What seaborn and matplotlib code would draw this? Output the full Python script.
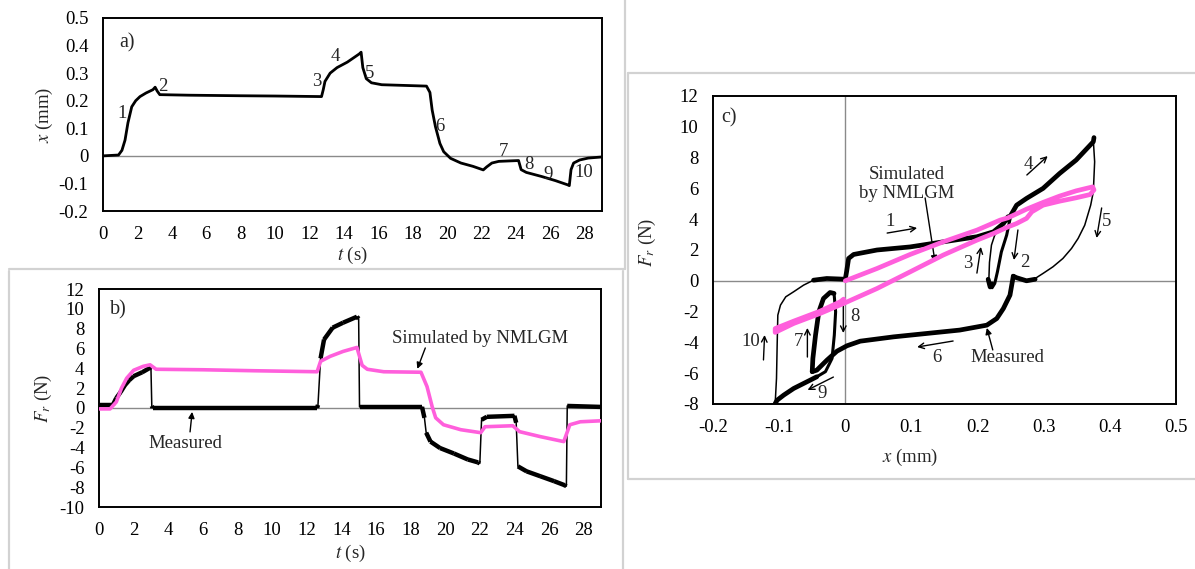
import matplotlib
matplotlib.use("Agg")
import matplotlib.pyplot as plt
from matplotlib.lines import Line2D
import seaborn as sns

# ---------------- data : panel a (displacement vs time) ----------------
time_a = [0, 0.9, 1.1, 1.28, 1.45, 1.67, 1.9, 2.15, 2.5, 2.9, 3.03, 3.15, 3.3, 5, 8, 10,
          12.7, 12.8, 12.9, 13.2, 13.6, 14.2, 14.9, 15.0, 15.1, 15.3, 15.6, 16.2, 18.8,
          19.0, 19.13, 19.32, 19.58, 19.8, 20.2, 20.8, 21.5, 22.1, 22.3, 22.6, 23.0, 24.15,
          24.3, 24.6, 25.5, 26.3, 27.0, 27.1, 27.2, 27.35, 27.7, 28.2, 29.0]
disp_a = [0, 0.003, 0.02, 0.057, 0.12, 0.178, 0.2, 0.215, 0.228, 0.24, 0.249, 0.235, 0.222,
          0.22, 0.218, 0.217, 0.215, 0.24, 0.27, 0.3, 0.32, 0.34, 0.37, 0.376, 0.32, 0.28,
          0.265, 0.258, 0.253, 0.23, 0.166, 0.106, 0.045, 0.015, -0.009, -0.026, -0.038,
          -0.051, -0.04, -0.026, -0.02, -0.017, -0.05, -0.06, -0.075, -0.09, -0.105, -0.108,
          -0.05, -0.026, -0.015, -0.008, -0.004]
labels_a = ["1", "2", "3", "4", "5", "6", "7", "8", "9", "10"]
label_t_a = [1.1, 3.5, 12.45, 13.5, 15.5, 19.55, 23.3, 24.75, 25.85, 27.95]
label_x_a = [0.155, 0.253, 0.27, 0.36, 0.30, 0.105, 0.015, -0.03, -0.066, -0.06]

# ---------------- data : panel b (force vs time) ----------------
time_meas_b = [0, 0.8, 1.0, 1.25, 1.5, 1.75, 2.0, 2.5, 3.0, 3.05, 3.1, 12.6, 12.65, 12.8,
               13.0, 13.5, 14.1, 14.9, 15.0, 15.05, 18.66, 18.8, 18.9, 19.15, 19.7, 20.5,
               21.3, 21.9, 22.0, 22.1, 22.4, 24.0, 24.1, 24.2, 24.7, 25.5, 26.3, 26.9, 27.0,
               27.05, 29.0]
force_meas_b = [0.3, 0.3, 1.0, 1.6, 2.3, 2.8, 3.2, 3.6, 4.1, 0.2, 0.0, 0.0, 0.3, 5.0, 6.9,
                8.1, 8.6, 9.2, 9.0, 0.1, 0.1, -1.0, -2.5, -3.4, -4.05, -4.6, -5.2, -5.5,
                -5.6, -1.2, -0.9, -0.8, -1.5, -5.9, -6.4, -6.9, -7.4, -7.8, -7.9, 0.2, 0.1]
time_sim_b = [0, 0.64, 1.0, 1.3, 1.6, 2.0, 2.56, 2.95, 3.3, 6, 9, 12.6, 12.8, 13.35, 14.1,
              14.9, 15.2, 15.5, 16.45, 18.6, 18.95, 19.25, 19.45, 19.9, 20.9, 22.05, 22.3,
              23.9, 24.3, 25.5, 26.85, 27.2, 27.8, 29.0]
force_sim_b = [-0.1, -0.1, 0.6, 2.0, 3.0, 3.8, 4.2, 4.35, 3.9, 3.85, 3.75, 3.65, 4.7, 5.2,
               5.7, 6.1, 4.3, 3.9, 3.65, 3.6, 2.15, 0.1, -1.0, -1.7, -2.2, -2.5, -1.9, -1.8,
               -2.4, -2.9, -3.4, -1.7, -1.4, -1.3]

# ---------------- data : panel c (force vs displacement) ----------------
hold0_x = [-0.048, -0.028, -0.01, 0.0]
hold0_f = [0.04, 0.15, 0.12, 0.1]
seg1_x = [0.0, 0.002, 0.005, 0.0126, 0.048, 0.098, 0.148, 0.199, 0.224, 0.239, 0.246]
seg1_f = [0.1, 0.6, 1.45, 1.71, 2.0, 2.2, 2.53, 2.86, 3.18, 3.72, 4.16]
seg2_x = [0.249, 0.244, 0.236, 0.23, 0.226, 0.222, 0.218, 0.217]
seg2_f = [4.0, 2.97, 1.88, 0.58, -0.17, -0.45, -0.3, 0.0]
hold1_x = [0.216, 0.219, 0.222]
hold1_f = [0.1, -0.4, -0.2]
seg3_x = [0.217, 0.218, 0.221, 0.226, 0.234, 0.246]
seg3_f = [0.0, 1.2, 2.32, 2.97, 3.4, 3.94]
seg4_x = [0.246, 0.259, 0.274, 0.299, 0.324, 0.349, 0.375, 0.376]
seg4_f = [3.94, 4.91, 5.35, 6.0, 6.97, 7.84, 9.03, 9.3]
seg5_x = [0.375, 0.377, 0.375, 0.371, 0.362, 0.352, 0.342, 0.329, 0.314, 0.299, 0.287, 0.28]
seg5_f = [9.13, 7.73, 5.78, 4.91, 3.61, 2.75, 2.1, 1.45, 0.91, 0.48, 0.15, 0.05]
hold2_x = [0.287, 0.274, 0.259, 0.254]
hold2_f = [0.1, 0.0, 0.2, 0.3]
seg6_x = [0.254, 0.249, 0.239, 0.229, 0.214, 0.173, 0.123, 0.073, 0.0226, 0.0025, -0.0126,
          -0.0277, -0.043, -0.05]
seg6_f = [0.3, -0.93, -1.8, -2.45, -2.88, -3.2, -3.42, -3.64, -3.92, -4.22, -4.57, -5.15,
          -5.8, -5.9]
seg7_x = [-0.05, -0.049, -0.045, -0.04, -0.033, -0.023, -0.017]
seg7_f = [-5.9, -5.04, -3.53, -2.01, -1.15, -0.76, -0.82]
seg8_x = [-0.017, -0.0146, -0.0166, -0.02, -0.03, -0.043]
seg8_f = [-0.82, -2.01, -3.53, -5.04, -5.9, -6.23]
seg9_x = [-0.043, -0.053, -0.078, -0.093, -0.103, -0.106]
seg9_f = [-6.23, -6.45, -6.99, -7.42, -7.75, -7.97]
seg10_x = [-0.106, -0.104, -0.103, -0.102, -0.098, -0.09, -0.078, -0.063, -0.048]
seg10_f = [-7.97, -6.34, -4.18, -2.23, -1.58, -1.04, -0.71, -0.28, 0.04]

sim_c_x = [0.0, 0.048, 0.098, 0.148, 0.199, 0.234, 0.246, 0.274, 0.299, 0.324, 0.349, 0.374,
           0.376, 0.37, 0.349, 0.324, 0.299, 0.282, 0.274, 0.259, 0.246, 0.224, 0.199, 0.148,
           0.098, 0.048, -0.0025, -0.038, -0.078, -0.106, -0.106, -0.078, -0.038, -0.0075,
           -0.0025]
sim_c_f = [0.0, 0.8, 1.71, 2.53, 3.29, 3.94, 4.09, 4.65, 5.09, 5.5, 5.84, 6.1, 5.9, 5.6,
           5.39, 5.17, 4.91, 4.48, 4.05, 3.72, 3.5, 3.07, 2.64, 1.67, 0.58, -0.5, -1.47,
           -2.12, -2.77, -3.35, -3.1, -2.62, -1.97, -1.36, -1.19]

ticks_t = list(range(0, 29, 2))
ticks_xa = [0.5, 0.4, 0.3, 0.2, 0.1, 0, -0.1, -0.2]
ticklabels_xa = ["0.5", "0.4", "0.3", "0.2", "0.1", "0", "-0.1", "-0.2"]
ticks_fb = list(range(12, -11, -2))
ticks_fc = list(range(12, -9, -2))
ticks_xc = [-0.2, -0.1, 0, 0.1, 0.2, 0.3, 0.4, 0.5]
ticklabels_xc = ["-0.2", "-0.1", "0", "0.1", "0.2", "0.3", "0.4", "0.5"]

# ---------------- style ----------------
sns.set_theme(style="white")
plt.rcParams["font.family"] = ["Liberation Serif", "DejaVu Serif"]
plt.rcParams["mathtext.fontset"] = "stix"

PINK = "#FF5FDC"
GRAY = "#8a8a8a"
FRAME = "#d2d2d2"
W, H = 1195, 569
TICK_FS = 13.5
TXT_FS = 13.5

fig = plt.figure(figsize=(W / 100, H / 100), dpi=100)
fig.patch.set_facecolor("white")


def add_axes(l, r, t, b):
    return fig.add_axes([l / W, 1 - b / H, (r - l) / W, (b - t) / H])


def style_axes(ax):
    for s in ax.spines.values():
        s.set_visible(True)
        s.set_color("black")
        s.set_linewidth(1.4)
    ax.tick_params(length=0, pad=10.5, labelsize=TICK_FS, colors="black")
    ax.grid(False)
    ax.set_facecolor("white")


# ---------------- panel frames ----------------
def fline(x0, y0, x1, y1):
    fig.add_artist(Line2D([x0 / W, x1 / W], [1 - y0 / H, 1 - y1 / H], color=FRAME, lw=1.6,
                          transform=fig.transFigure))

fline(625, 0, 625, 269)
fline(9, 269, 625, 269)
fline(9, 271, 9, 569)
fline(623, 271, 623, 569)
fline(628, 73, 628, 479)
fline(628, 73, 1195, 73)
fline(628, 479, 1195, 479)

# ---------------- panel a ----------------
axa = add_axes(103, 602, 18, 211)
style_axes(axa)
axa.axhline(0, color=GRAY, lw=1.0, zorder=1)
sns.lineplot(x=time_a, y=disp_a, ax=axa, color="black", linewidth=2.0, sort=False,
             estimator=None, zorder=3)
axa.set_xlim(0, 29)
axa.set_ylim(-0.2, 0.5)
axa.set_xticks(ticks_t)
axa.set_xticklabels([str(v) for v in ticks_t])
axa.set_yticks(ticks_xa)
axa.set_yticklabels(ticklabels_xa)
axa.set_xlabel("$t$ (s)", fontsize=TXT_FS)
axa.set_ylabel("$x$ (mm)", fontsize=TXT_FS)
axa.xaxis.set_label_coords(0.5, -0.228)
axa.yaxis.set_label_coords(-0.118, 0.5)
axa.xaxis.label.set_va("center")
axa.yaxis.label.set_va("center")
axa.text(1.4, 0.41, "a)", fontsize=TXT_FS + 1, ha="center", va="center")
for lab, tt, xx in zip(labels_a, label_t_a, label_x_a):
    axa.text(tt, xx, lab, fontsize=TICK_FS, ha="center", va="center")

# ---------------- panel b ----------------
axb = add_axes(99, 601, 289, 507)
style_axes(axb)
axb.axhline(0, color=GRAY, lw=1.0, zorder=1)
sns.lineplot(x=time_meas_b, y=force_meas_b, ax=axb, color="black", linewidth=1.1,
             sort=False, estimator=None, zorder=3)
# noisy plateaus drawn thicker
for i in range(len(time_meas_b) - 1):
    dt = time_meas_b[i + 1] - time_meas_b[i]
    df = force_meas_b[i + 1] - force_meas_b[i]
    if abs(df) / dt < 12:
        axb.plot(time_meas_b[i:i + 2], force_meas_b[i:i + 2], color="black", lw=3.2,
                 solid_capstyle="butt", zorder=3)
sns.lineplot(x=time_sim_b, y=force_sim_b, ax=axb, color=PINK, linewidth=2.6, sort=False,
             estimator=None, zorder=4)
axb.set_xlim(0, 29)
axb.set_ylim(-10, 12)
axb.set_xticks(ticks_t)
axb.set_xticklabels([str(v) for v in ticks_t])
axb.set_yticks(ticks_fb)
axb.set_yticklabels([str(v) for v in ticks_fb])
axb.set_xlabel("$t$ (s)", fontsize=TXT_FS)
axb.set_ylabel("$F_r$ (N)", fontsize=TXT_FS)
axb.xaxis.set_label_coords(0.5, -0.211)
axb.yaxis.set_label_coords(-0.1116, 0.5)
axb.xaxis.label.set_va("center")
axb.yaxis.label.set_va("center")
axb.text(1.1, 9.9, "b)", fontsize=TXT_FS + 1, ha="center", va="center")
arrow_b = dict(arrowstyle="-|>", lw=1.0, color="black", mutation_scale=9, shrinkA=0, shrinkB=0)
axb.annotate("", xy=(5.38, -0.4), xytext=(5.26, -2.42), arrowprops=arrow_b)
axb.text(4.97, -3.6, "Measured", fontsize=TXT_FS, ha="center", va="center")
axb.annotate("", xy=(18.39, 3.94), xytext=(18.85, 6.05), arrowprops=arrow_b)
axb.text(22.0, 6.96, "Simulated by NMLGM", fontsize=TXT_FS, ha="center", va="center")

# ---------------- panel c ----------------
axc = add_axes(713, 1176, 96, 404)
style_axes(axc)
axc.axhline(0, color=GRAY, lw=1.0, zorder=1)
axc.axvline(0, color=GRAY, lw=1.0, zorder=1)
thick = [(hold0_x, hold0_f), (seg1_x, seg1_f), (hold1_x, hold1_f), (seg4_x, seg4_f),
         (hold2_x, hold2_f), (seg6_x, seg6_f), (seg9_x, seg9_f), (seg7_x, seg7_f)]
medium = [(seg2_x, seg2_f), (seg8_x, seg8_f)]
thin = [(seg3_x, seg3_f), (seg5_x, seg5_f), (seg10_x, seg10_f)]
for group, lw in ((thin, 1.1), (medium, 2.2), (thick, 3.4)):
    for xs, fs in group:
        sns.lineplot(x=xs, y=fs, ax=axc, color="black", linewidth=lw, sort=False,
                     estimator=None, zorder=3)
sns.lineplot(x=sim_c_x, y=sim_c_f, ax=axc, color=PINK, linewidth=3.4, sort=False,
             estimator=None, zorder=4)
axc.set_xlim(-0.2, 0.5)
axc.set_ylim(-8, 12)
axc.set_xticks(ticks_xc)
axc.set_xticklabels(ticklabels_xc)
axc.set_yticks(ticks_fc)
axc.set_yticklabels([str(v) for v in ticks_fc])
axc.set_xlabel("$x$ (mm)", fontsize=TXT_FS)
axc.set_ylabel("$F_r$ (N)", fontsize=TXT_FS)
axc.xaxis.set_label_coords(0.4255, -0.172)
axc.yaxis.set_label_coords(-0.1425, 0.526)
axc.xaxis.label.set_va("center")
axc.yaxis.label.set_va("center")
axc.text(-0.176, 10.57, "c)", fontsize=TXT_FS + 1, ha="center", va="center")

arrow_c = dict(arrowstyle="->", lw=1.0, color="black", mutation_scale=10, shrinkA=0, shrinkB=0)
axc.text(0.0935, 6.3, "Simulated\nby NMLGM", fontsize=TXT_FS, ha="center", va="center",
         linespacing=1.15)
axc.annotate("", xy=(0.1357, 1.22), xytext=(0.1207, 5.38),
             arrowprops=dict(arrowstyle="-|>", lw=1.0, color="black", mutation_scale=9,
                             shrinkA=0, shrinkB=0))
axc.text(0.245, -4.95, "Measured", fontsize=TXT_FS, ha="center", va="center")
axc.annotate("", xy=(0.214, -3.06), xytext=(0.223, -4.49),
             arrowprops=dict(arrowstyle="-|>", lw=1.0, color="black", mutation_scale=9,
                             shrinkA=0, shrinkB=0))

num_c = ["1", "2", "3", "4", "5", "6", "7", "8", "9", "10"]
num_c_pos = [(0.0679, 3.82), (0.271, 1.19), (0.1855, 1.15), (0.276, 7.56), (0.395, 3.82),
             (0.139, -5.01), (-0.071, -3.97), (0.0151, -2.35), (-0.0347, -7.29),
             (-0.143, -3.97)]
arr_c_from = [(0.0633, 3.1), (0.261, 3.3), (0.199, 0.5), (0.2745, 6.87), (0.3876, 4.73),
              (0.163, -3.91), (-0.0573, -4.95), (-0.003, -1.38), (-0.018, -6.25),
              (-0.1237, -5.14)]
arr_c_to = [(0.1086, 3.43), (0.255, 1.35), (0.205, 2.2), (0.306, 8.1), (0.380, 2.78),
            (0.1086, -4.3), (-0.0573, -3.06), (-0.003, -3.39), (-0.057, -7.09),
            (-0.122, -3.52)]
for lab, p, a0, a1 in zip(num_c, num_c_pos, arr_c_from, arr_c_to):
    axc.text(p[0], p[1], lab, fontsize=TICK_FS, ha="center", va="center")
    axc.annotate("", xy=a1, xytext=a0, arrowprops=arrow_c)

fig.savefig("out.png", dpi=100, facecolor="white")
